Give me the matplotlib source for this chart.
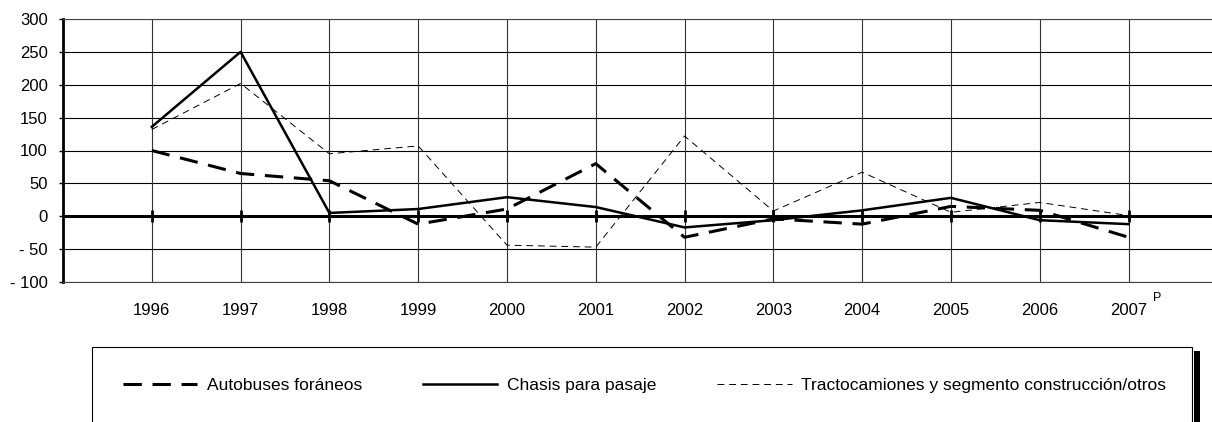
import numpy as np
import matplotlib.pyplot as plt
from matplotlib.patches import Rectangle

plt.rcParams['font.family'] = ['Liberation Sans', 'DejaVu Sans']

# Data (annual change, %)
years = ['1996', '1997', '1998', '1999', '2000', '2001',
         '2002', '2003', '2004', '2005', '2006', '2007']
autobuses = [100, 65, 54, -12, 11, 80, -32, -4, -12, 15, 9, -32]
chasis = [136, 250, 5, 11, 29, 14, -17, -6, 9, 28, -6, -12]
tracto = [132, 202, 95, 107, -44, -47, 122, 8, 67, 6, 21, 1]

ytick_vals = [-100, -50, 0, 50, 100, 150, 200, 250, 300]
ytick_labels = ['- 100', '- 50', '0', '50', '100', '150', '200', '250', '300']

W, H = 1212, 422
fig = plt.figure(figsize=(W / 100, H / 100), dpi=100)
ax = fig.add_axes([63 / W, 1 - 282 / H, (W - 63) / W, (282 - 19) / H])

x = np.arange(len(years))

# grid
for yv in ytick_vals:
    ax.axhline(yv, color='black', lw=0.8, zorder=1)
for xv in x:
    ax.axvline(xv, color='#333333', lw=0.8, zorder=1)

# zero line with small category ticks
ax.axhline(0, color='black', lw=2.2, zorder=2)
ax.plot(x, np.zeros(len(x)), ls='none', marker='|', ms=9, mew=2,
        color='black', zorder=2)

l1, = ax.plot(x, autobuses, color='black', lw=2.2, dashes=(6, 3.5),
              label='Autobuses foráneos', zorder=4)
l2, = ax.plot(x, chasis, color='black', lw=1.8, label='Chasis para pasaje',
              zorder=5)
l3, = ax.plot(x, tracto, color='black', lw=0.7, dashes=(7, 5),
              label='Tractocamiones y segmento construcción/otros', zorder=3)

ax.set_xlim(-1, 11.94)
ax.set_ylim(-100, 300)
ax.set_yticks(ytick_vals)
ax.set_yticklabels(ytick_labels)
ax.set_xticks(x)
ax.set_xticklabels(years)
ax.tick_params(axis='x', length=0, pad=15, labelsize=12)
ax.tick_params(axis='y', direction='out', length=3, width=1, pad=8,
               labelsize=12)

ax.spines['right'].set_visible(False)
ax.spines['top'].set_color('#444444')
ax.spines['bottom'].set_color('#444444')
ax.spines['left'].set_linewidth(2)
ax.spines['left'].set_color('black')

fig.text(1157 / W, 1 - 298 / H, 'P', fontsize=9, ha='center', va='center')

# legend box (cut off at the bottom) with shadow bar on the right
fig.add_artist(Rectangle((92 / W, -0.1), (1192 - 92) / W, 0.1 + 1 - 347 / H,
                         transform=fig.transFigure, facecolor='white',
                         edgecolor='black', lw=0.8))
fig.add_artist(Rectangle((1194 / W, -0.1), 6 / W, 0.1 + 1 - 351 / H,
                         transform=fig.transFigure, facecolor='black',
                         edgecolor='none'))

fig.legend(handles=[l1, l2, l3], loc='center left',
           bbox_to_anchor=(107 / W, 1 - 385 / H), ncol=3, frameon=False,
           fontsize=12.5, handlelength=4.3, handletextpad=0.55,
           columnspacing=3.5)

fig.savefig('out.png', dpi=100)
